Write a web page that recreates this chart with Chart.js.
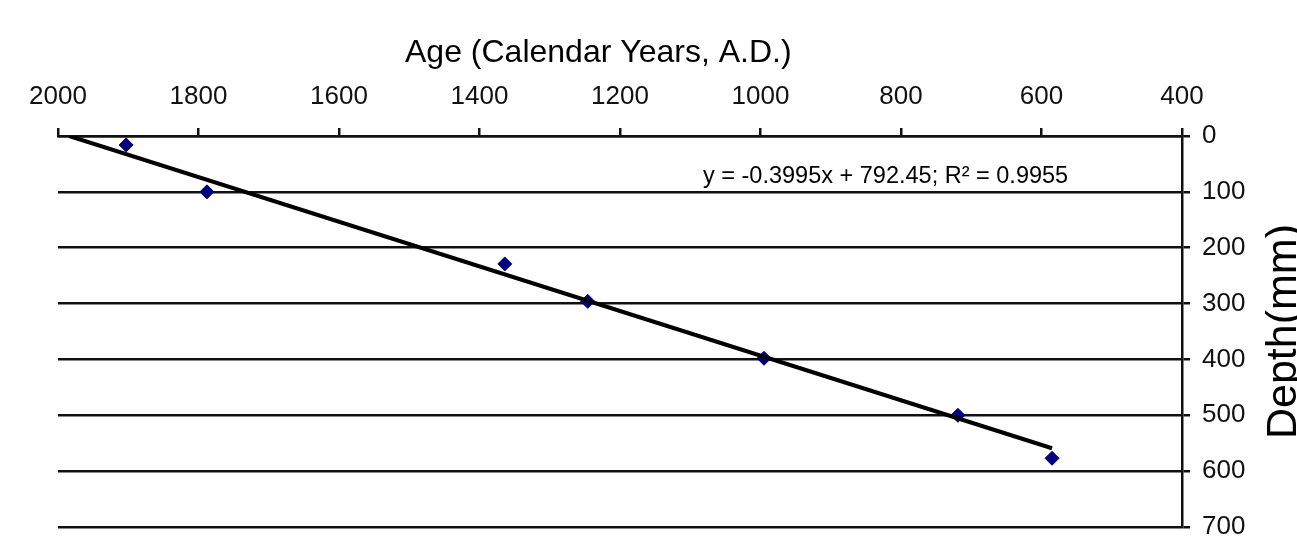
<!DOCTYPE html>
<html>
<head>
<meta charset="utf-8">
<script src="https://cdn.jsdelivr.net/npm/chart.js@4"></script>
<style>
  html, body { margin: 0; padding: 0; background: #fff; }
  #wrap { width: 1297px; height: 538px; }
</style>
</head>
<body>
<div id="wrap"><canvas id="chart" width="1297" height="538"></canvas></div>
<script>
// dated samples: age (calendar years A.D.) against depth (mm)
const ages = [1903, 1788, 1364, 1246, 995, 719, 585];
const depths = [16, 100, 229, 296, 398, 500, 577];

// linear trend line, its two ends
const fitAges = [1984, 585];
const fitDepths = [0, 559];

const ageTicks = [2000, 1800, 1600, 1400, 1200, 1000, 800, 600, 400];
const depthTicks = [0, 100, 200, 300, 400, 500, 600, 700];

const xTitle = 'Age (Calendar Years, A.D.)';
const yTitle = 'Depth(mm)';
const fitLabel = 'y = -0.3995x + 792.45; R\u00b2 = 0.9955';

const FONT = '"Liberation Sans", Arial, sans-serif';

// titles and the fit equation drawn by hand (the right title reads bottom to top)
const textPlugin = {
  id: 'texts',
  afterDraw(chart) {
    const ctx = chart.ctx;
    const area = chart.chartArea;
    ctx.save();
    ctx.fillStyle = '#000';

    ctx.font = '32px ' + FONT;
    ctx.textAlign = 'left';
    ctx.textBaseline = 'middle';
    ctx.fillText(xTitle, 405, 53);

    ctx.font = '23.5px ' + FONT;
    ctx.textBaseline = 'alphabetic';
    ctx.fillText(fitLabel, area.left + 645, 183);

    ctx.translate(1296, (area.top + area.bottom) / 2);
    ctx.rotate(-Math.PI / 2);
    ctx.font = '43px ' + FONT;
    ctx.textAlign = 'center';
    ctx.textBaseline = 'alphabetic';
    ctx.fillText(yTitle, 0, 0);
    ctx.restore();
  }
};

const points = ages.map((a, i) => ({ x: a, y: depths[i] }));
const fit = fitAges.map((a, i) => ({ x: a, y: fitDepths[i] }));

new Chart(document.getElementById('chart'), {
  type: 'scatter',
  data: {
    datasets: [
      {
        label: 'fit',
        data: fit,
        showLine: true,
        borderColor: '#000',
        borderWidth: 4,
        pointRadius: 0,
        order: 0
      },
      {
        label: 'samples',
        data: points,
        pointStyle: 'rectRot',
        pointRadius: 7,
        backgroundColor: '#000080',
        borderColor: '#000080',
        borderWidth: 1,
        order: 1
      }
    ]
  },
  options: {
    responsive: false,
    animation: false,
    layout: { padding: { left: 58, right: 0, top: 0, bottom: 11 } },
    plugins: {
      legend: { display: false },
      tooltip: { enabled: false }
    },
    scales: {
      x: {
        type: 'linear',
        position: 'top',
        reverse: true,
        min: 400,
        max: 2000,
        afterBuildTicks: s => { s.ticks = ageTicks.map(v => ({ value: v })); },
        afterFit: s => { s.height = 136; s.paddingLeft = 0; s.paddingRight = 0; },
        ticks: {
          color: '#111',
          font: { family: FONT, size: 26 },
          padding: 16,
          maxRotation: 0,
          callback: v => String(v)
        },
        grid: {
          drawOnChartArea: false,
          color: '#111',
          lineWidth: 2.5,
          tickLength: 8
        },
        border: { display: true, color: '#111', width: 2.5 }
      },
      y: {
        type: 'linear',
        position: 'right',
        reverse: true,
        min: 0,
        max: 700,
        afterBuildTicks: s => { s.ticks = depthTicks.map(v => ({ value: v })); },
        afterFit: s => { s.width = 115; s.paddingTop = 0; s.paddingBottom = 0; },
        ticks: {
          color: '#111',
          font: { family: FONT, size: 26 },
          padding: 12,
          callback: v => String(v)
        },
        grid: {
          color: '#111',
          lineWidth: 2.5,
          tickLength: 8
        },
        border: { display: true, color: '#111', width: 2.5 }
      }
    }
  },
  plugins: [textPlugin]
});
</script>
</body>
</html>
